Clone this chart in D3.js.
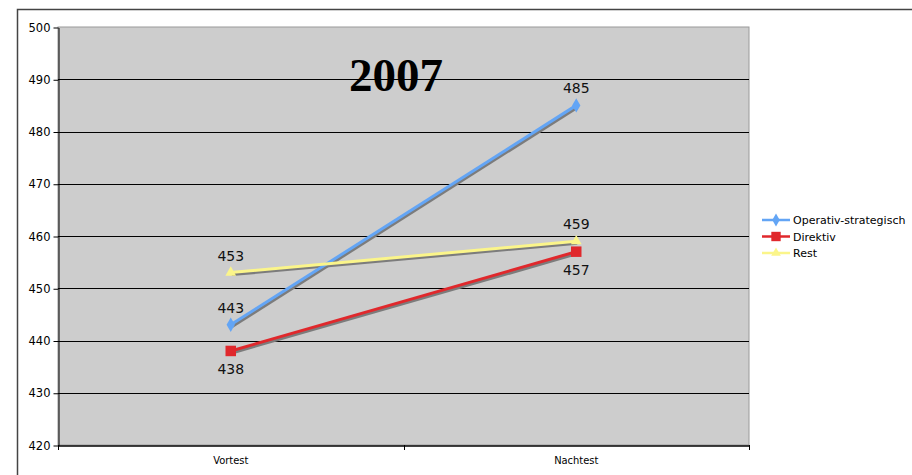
<!DOCTYPE html>
<html>
<head>
<meta charset="utf-8">
<script src="https://cdn.jsdelivr.net/npm/d3@7"></script>
<style>
  body { margin: 0; background: #fff; overflow: hidden; }
  svg { display: block; }
</style>
</head>
<body>
<div id="chart"></div>
<script>
const categories = ["Vortest", "Nachtest"];
const seriesNames = ["Operativ-strategisch", "Direktiv", "Rest"];
const operativ = [443, 485];
const direktiv = [438, 457];
const rest = [453, 459];
const yTicks = [420, 430, 440, 450, 460, 470, 480, 490, 500];
const chartTitle = "2007";

const W = 912, H = 475;
const plot = {left: 58, top: 27, right: 749, bottom: 445};

const svg = d3.select("#chart").append("svg")
    .attr("width", W)
    .attr("height", H);

// outer chart frame (runs off the page at right/bottom)
svg.append("rect")
    .attr("x", 17.5).attr("y", 9.5)
    .attr("width", W + 50).attr("height", H + 50)
    .attr("fill", "#fff")
    .attr("stroke", "#444")
    .attr("stroke-width", 1.5);

const x = d3.scaleBand().domain(categories).range([plot.left, plot.right]);
const y = d3.scaleLinear().domain([420, 500]).range([plot.bottom, plot.top]);
const cx = d => x(d) + x.bandwidth() / 2;

// plot area
svg.append("rect")
    .attr("x", plot.left).attr("y", plot.top)
    .attr("width", plot.right - plot.left).attr("height", plot.bottom - plot.top)
    .attr("fill", "#cdcdcd")
    .attr("stroke", "#9a9a9a");

// gridlines
svg.selectAll("line.grid")
    .data(yTicks.filter(d => d > 420 && d < 500))
    .enter().append("line")
    .attr("class", "grid")
    .attr("x1", plot.left).attr("x2", plot.right)
    .attr("y1", d => Math.round(y(d)) + 0.5).attr("y2", d => Math.round(y(d)) + 0.5)
    .attr("stroke", "#000");

// y axis
const yAxis = svg.append("g")
    .attr("transform", `translate(${plot.left + 0.5},0.5)`)
    .call(d3.axisLeft(y).tickValues(yTicks).tickSize(5).tickPadding(3).tickSizeOuter(0));
yAxis.select(".domain").attr("stroke", "#000");
yAxis.selectAll("text")
    .attr("font-family", "DejaVu Sans, Verdana, sans-serif")
    .attr("font-size", 11.5)
    .attr("fill", "#000");

// x axis
const xAxis = svg.append("g")
    .attr("transform", `translate(0,${plot.bottom + 0.5})`)
    .call(d3.axisBottom(x).tickSize(0).tickPadding(11).tickSizeOuter(0));
xAxis.select(".domain").attr("stroke", "#000").attr("stroke-width", 1.5);
xAxis.selectAll("text")
    .attr("font-family", "DejaVu Sans Condensed, DejaVu Sans, sans-serif")
    .attr("font-stretch", "condensed")
    .attr("font-size", 11)
    .attr("fill", "#000");
// category boundary ticks
const bounds = [plot.left, plot.left + x.bandwidth(), plot.right];
svg.selectAll("line.xtick")
    .data(bounds)
    .enter().append("line")
    .attr("class", "xtick")
    .attr("x1", d => Math.round(d) + 0.5).attr("x2", d => Math.round(d) + 0.5)
    .attr("y1", plot.bottom).attr("y2", plot.bottom + 5)
    .attr("stroke", "#000");

// title
svg.append("text")
    .attr("x", 396).attr("y", 91)
    .attr("text-anchor", "middle")
    .attr("font-family", "Liberation Serif, Times New Roman, serif")
    .attr("font-weight", "bold")
    .attr("font-size", 47)
    .text(chartTitle);

const series = [
    {name: seriesNames[0], values: operativ, color: "#63a5f5", symbol: d3.symbolDiamond, size: 60, labelPos: ["above", "above"]},
    {name: seriesNames[1], values: direktiv, color: "#e0282c", symbol: d3.symbolSquare, size: 110, labelPos: ["below", "below"]},
    {name: seriesNames[2], values: rest, color: "#fbf58a", symbol: d3.symbolTriangle, size: 50, labelPos: ["above", "above"]}
];

const line = d3.line()
    .x((d, i) => cx(categories[i]))
    .y(d => y(d));

// shadows first
series.forEach(s => {
    svg.append("path")
        .datum(s.values)
        .attr("transform", "translate(1,2)")
        .attr("fill", "none")
        .attr("stroke", "#7c7c7c")
        .attr("stroke-width", 3)
        .attr("d", line);
});

series.forEach(s => {
    svg.append("path")
        .datum(s.values)
        .attr("fill", "none")
        .attr("stroke", s.color)
        .attr("stroke-width", 3)
        .attr("d", line);
    svg.selectAll(null)
        .data(s.values)
        .enter().append("path")
        .attr("transform", (d, i) => `translate(${cx(categories[i])},${y(d)})`)
        .attr("d", d3.symbol().type(s.symbol).size(s.size))
        .attr("fill", s.color);
    svg.selectAll(null)
        .data(s.values)
        .enter().append("text")
        .attr("x", (d, i) => cx(categories[i]))
        .attr("y", (d, i) => s.labelPos[i] === "above" ? y(d) - 12 : y(d) + 23)
        .attr("text-anchor", "middle")
        .attr("font-family", "DejaVu Sans, Verdana, sans-serif")
        .attr("font-size", 14)
        .attr("fill", "#111")
        .text(d => d);
});

// legend
const legend = svg.append("g").attr("transform", "translate(762,220)");
series.forEach((s, i) => {
    const g = legend.append("g").attr("transform", `translate(0,${i * 16.5})`);
    g.append("line")
        .attr("x1", 0).attr("x2", 28)
        .attr("stroke", s.color).attr("stroke-width", 2.5);
    g.append("path")
        .attr("transform", "translate(14,0)")
        .attr("d", d3.symbol().type(s.symbol).size(s.size * 0.8))
        .attr("fill", s.color);
    g.append("text")
        .attr("x", 31).attr("y", 4)
        .attr("font-family", "DejaVu Sans, Verdana, sans-serif")
        .attr("font-size", 11)
        .attr("fill", "#000")
        .text(s.name);
});
</script>
</body>
</html>
